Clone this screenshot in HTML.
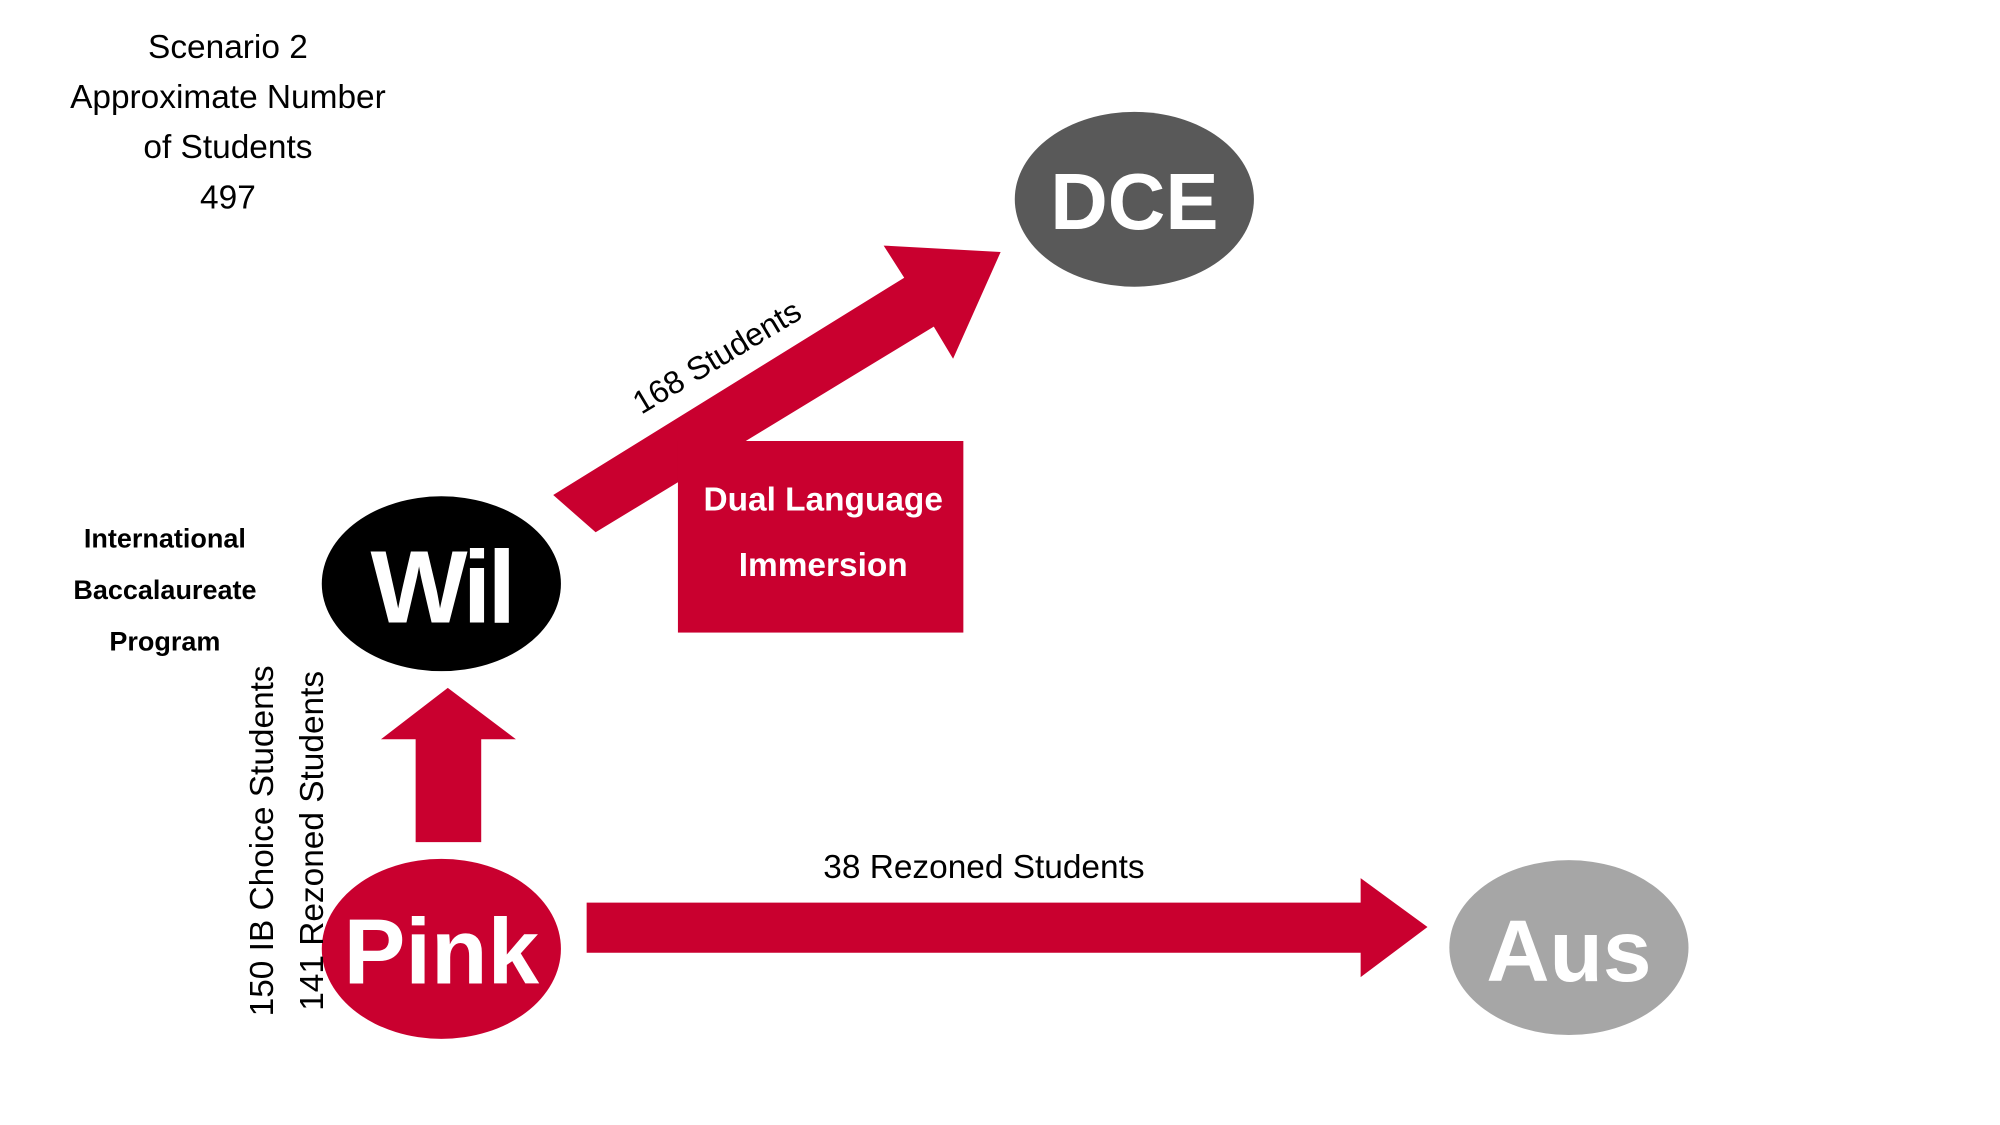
<!DOCTYPE html>
<html><head><style>html,body{margin:0;padding:0;background:#fff}svg{display:block}</style></head>
<body>
<svg width="2000" height="1125" viewBox="0 0 1555 875" xmlns="http://www.w3.org/2000/svg" font-family="Liberation Sans, sans-serif">
<rect width="1555" height="875" fill="#fff"/>
<g font-size="26" text-anchor="middle" fill="#000">
<text x="177" y="45">Scenario 2</text>
<text x="177" y="84">Approximate Number</text>
<text x="177" y="123">of Students</text>
<text x="177" y="162">497</text>
</g>
<g font-size="21" font-weight="bold" text-anchor="middle">
<text x="128" y="426">International</text>
<text x="128" y="466">Baccalaureate</text>
<text x="128" y="506">Program</text>
</g>
<polygon points="430,385 463,414 726,254 741,279 778,196 687,191 703,216" fill="#c9002f"/>
<polygon points="456,702 1058,702 1058,683 1110,721 1058,760 1058,741 456,741" fill="#c9002f"/>
<polygon points="323,655 323,575 296,575 348,535 401,575 374,575 374,655" fill="#c9002f"/>
<rect x="527" y="343" width="222" height="149" fill="#c9002f"/>
<g font-size="26" font-weight="bold" fill="#fff" text-anchor="middle">
<text x="640" y="397">Dual Language</text>
<text x="640" y="448">Immersion</text>
</g>
<text x="557" y="286" font-size="25" text-anchor="middle" transform="rotate(-31 557 277)">168 Students</text>
<text x="765" y="683" font-size="26" text-anchor="middle">38 Rezoned Students</text>
<ellipse cx="882" cy="155" rx="93" ry="68" fill="#595959"/>
<ellipse cx="343" cy="454" rx="93" ry="68" fill="#000"/>
<ellipse cx="343" cy="738" rx="93" ry="70" fill="#c9002f"/>
<ellipse cx="1220" cy="737" rx="93" ry="68" fill="#a6a6a6"/>
<g font-weight="bold" fill="#fff" text-anchor="middle">
<text x="882" y="178" font-size="62">DCE</text>
<text x="343" y="484" font-size="80" letter-spacing="-3">Wil</text>
<text x="343" y="765" font-size="72">Pink</text>
<text x="1220" y="763" font-size="68">Aus</text>
</g>
<text x="0" y="0" font-size="26" text-anchor="middle" transform="translate(212 654) rotate(-90)">150 IB Choice Students</text>
<text x="0" y="0" font-size="26" text-anchor="middle" transform="translate(251 654) rotate(-90)">141 Rezoned Students</text>
</svg>
</body></html>
